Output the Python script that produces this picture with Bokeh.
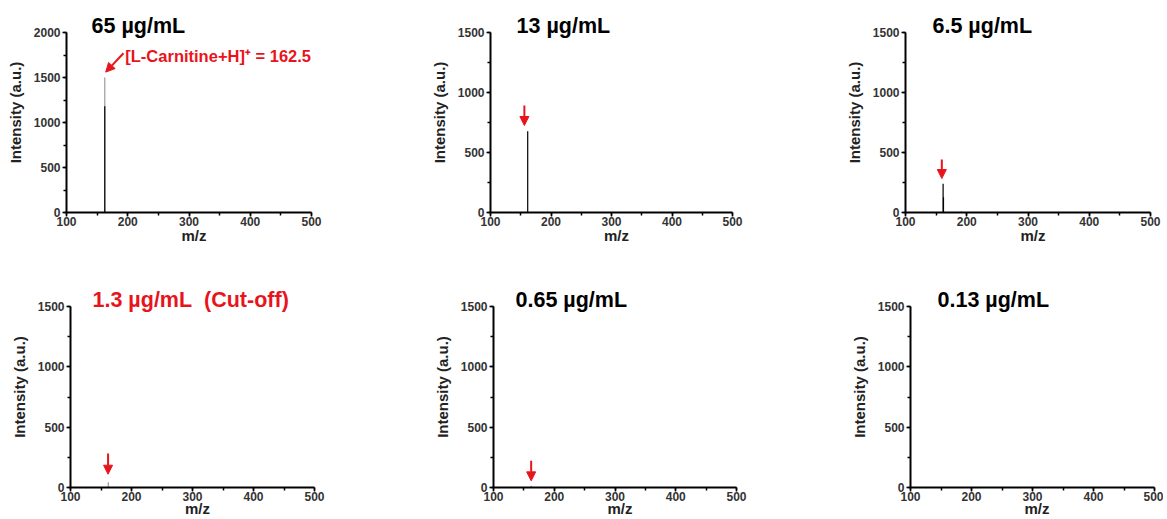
from bokeh.plotting import figure
from bokeh.layouts import row, column
from bokeh.models import Range1d, Label, Arrow, NormalHead, ColumnDataSource, SingleIntervalTicker
from bokeh.embed import file_html
from bokeh.resources import INLINE

# ---------------- data ----------------
titles = ["65 µg/mL", "13 µg/mL", "6.5 µg/mL", "1.3 µg/mL\u00a0\u00a0(Cut-off)", "0.65 µg/mL", "0.13 µg/mL"]
y_max = [2000, 1500, 1500, 1500, 1500, 1500]
x_range_mz = [100, 500]

# stick spectra (m/z, intensity)
mz_65 = [162.5, 162.5]
int_65 = [1500, 1180]
mz_13 = [161.5]
int_13 = [677]
mz_6p5 = [161.4, 162.0, 191.0]
int_6p5 = [239, 128, 8]
mz_1p3 = [162.0]
int_1p3 = [44]
mz_0p65 = [162.0]
int_0p65 = [14]
mz_0p13 = []
int_0p13 = []

peak_label = "[L-Carnitine+H]\u207a = 162.5"
peak_label_pos = (196, 1744)

# arrow positions (start m/z, start intensity, end m/z, end intensity)
arrow_65 = (193, 1770, 164, 1560)
arrow_13 = (156, 892, 156, 725)
arrow_6p5 = (159.3, 442, 159.3, 283)
arrow_1p3 = (161.6, 281, 161.6, 110)
arrow_0p65 = (162, 222, 162, 55)

# ---------------- style ----------------
RED = "#e8141b"
FONT = "Liberation Sans"
spectra = [(mz_65, int_65), (mz_13, int_13), (mz_6p5, int_6p5),
           (mz_1p3, int_1p3), (mz_0p65, int_0p65), (mz_0p13, int_0p13)]
stick_colors = [["#9a9a9a", "black"], ["black"], ["black", "black", "#9a9a9a"],
                ["#9a9a9a"], ["#9a9a9a"], []]
arrows = [arrow_65, arrow_13, arrow_6p5, arrow_1p3, arrow_0p65, None]
title_colors = ["black", "black", "black", RED, "black", "black"]

EXT_TOP = 20    # px of frame above the axis top (room for titles)

# layout: (fig width, fig height, left, axis width, ext right, axis top, axis height,
#          bottom, title offset px, x-axis label standoff)
layout = [
    (423, 268, 66, 245, 10, 32, 180, 56, 25, -2),
    (415, 268, 67, 242, 10, 32, 180, 56, 26, -2),
    (325, 268, 67, 245, 10, 32, 180, 56, 27, -2),
    (423, 251, 70, 244, 10, 38, 181, 32, 22, -4),
    (415, 251, 70, 243, 10, 38, 181, 32, 22, -4),
    (325, 251, 72, 244, 9, 38, 181, 32, 27, -4),
]

figs = []
for i in range(6):
    W, H, bl, aw, er, at, ah, bb, toff, xls = layout[i]
    fw = aw + er
    br = W - bl - fw
    bt = at - EXT_TOP
    x_end = x_range_mz[0] + (x_range_mz[1] - x_range_mz[0]) * fw / aw
    y_end = y_max[i] * (ah + EXT_TOP) / ah
    p = figure(width=W, height=H, output_backend="svg", toolbar_location=None,
               x_range=Range1d(x_range_mz[0], x_end), y_range=Range1d(0, y_end),
               min_border_left=bl, min_border_right=br, min_border_top=bt,
               min_border_bottom=bb, background_fill_color="white",
               border_fill_color="white", outline_line_color=None)
    p.grid.visible = False

    for ax in (p.xaxis[0], p.yaxis[0]):
        ax.axis_line_width = 2
        ax.axis_line_color = "black"
        ax.major_tick_line_color = "black"
        ax.minor_tick_line_color = "black"
        ax.major_tick_line_width = 1.5
        ax.minor_tick_line_width = 1.5
        ax.major_tick_in = 0
        ax.major_tick_out = 4
        ax.minor_tick_in = 0
        ax.minor_tick_out = 3
        ax.major_label_text_font = FONT
        ax.major_label_text_font_style = "bold"
        ax.major_label_text_font_size = "12px"
        ax.major_label_text_color = "#333333"
        ax.axis_label_text_font = FONT
        ax.axis_label_text_font_style = "bold"
        ax.axis_label_text_font_size = "15px"
        ax.axis_label_text_color = "#222222"
    p.xaxis.ticker = SingleIntervalTicker(interval=100, num_minor_ticks=2)
    p.yaxis.ticker = SingleIntervalTicker(interval=500, num_minor_ticks=2)
    p.xaxis.bounds = (x_range_mz[0], x_range_mz[1])
    p.yaxis.bounds = (0, y_max[i])
    p.xaxis.axis_label = "m/z"
    p.yaxis.axis_label = "Intensity (a.u.)"
    p.xaxis.major_label_standoff = 0
    p.xaxis.axis_label_standoff = xls
    p.yaxis.major_label_standoff = 2
    p.yaxis.axis_label_standoff = 7

    mz, inten = spectra[i]
    if mz:
        src = ColumnDataSource(dict(x=mz, y0=[0] * len(mz), y1=inten, c=stick_colors[i]))
        p.segment(x0="x", y0="y0", x1="x", y1="y1", source=src, line_color="c", line_width=1.2)

    a = arrows[i]
    if a is not None:
        p.add_layout(Arrow(end=NormalHead(size=9, fill_color=RED, line_color=RED, line_width=1),
                           x_start=a[0], y_start=a[1], x_end=a[2], y_end=a[3],
                           line_color=RED, line_width=2))

    tx = x_range_mz[0] + toff / aw * (x_range_mz[1] - x_range_mz[0])
    ty = y_max[i] * (1 + 6.5 / ah)
    p.add_layout(Label(x=tx, y=ty, text=titles[i], text_font=FONT,
                       text_font_style="bold", text_font_size="21.5px",
                       text_color=title_colors[i], text_baseline="middle"))
    if i == 0:
        p.add_layout(Label(x=peak_label_pos[0], y=peak_label_pos[1], text=peak_label,
                           text_font=FONT, text_font_style="bold", text_font_size="16.5px",
                           text_color=RED, text_baseline="middle"))
    figs.append(p)

layout_obj = column(row(*figs[:3]), row(*figs[3:]))
open("out.html", "w").write(file_html(layout_obj, INLINE))
